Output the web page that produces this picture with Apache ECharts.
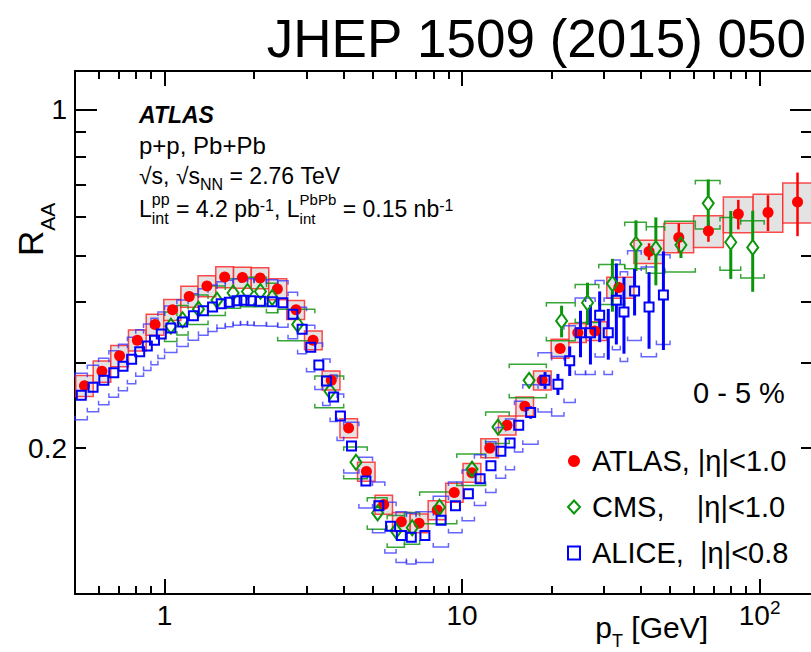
<!DOCTYPE html>
<html>
<head>
<meta charset="utf-8">
<script src="https://cdn.jsdelivr.net/npm/echarts@6.0.0/dist/echarts.min.js"></script>
<style>
  html, body { margin: 0; padding: 0; background: #fff; }
  #chart { width: 811px; height: 652px; }
</style>
</head>
<body>
<div id="chart"></div>
<script>
// ---------------- data: charged-hadron R_AA, 0-5 % central Pb+Pb, 2.76 TeV ----------------
const atlasPt = [0.538, 0.616, 0.706, 0.810, 0.929, 1.064, 1.210, 1.388, 1.592, 1.827, 2.095, 2.394, 2.766,
  3.155, 3.634, 4.156, 4.77, 5.45, 6.25, 7.17, 8.25, 9.41, 10.79, 12.39, 14.16, 16.25, 18.59, 21.36,
  24.49, 27.92, 33.64, 42.5, 53.5, 67.3, 84.8, 106.7, 134.1];
const atlasRaa = [0.269, 0.288, 0.310, 0.334, 0.360, 0.386, 0.411, 0.432, 0.451, 0.450, 0.449, 0.426, 0.386,
  0.334, 0.276, 0.220, 0.179, 0.153, 0.141, 0.140, 0.149, 0.162, 0.178, 0.200, 0.223, 0.244, 0.276, 0.321,
  0.346, 0.349, 0.429, 0.509, 0.544, 0.561, 0.608, 0.613, 0.644];
const atlasStatPct = [0.5, 0.5, 0.5, 0.5, 0.5, 0.5, 0.5, 0.5, 0.5, 0.5, 0.5, 0.5, 0.5, 0.5, 0.5, 0.5, 0.5, 0.5,
  0.5, 0.5, 0.5, 0.5, 0.5, 0.5, 0.5, 0.5, 0.5, 0.5, 1, 1.5, 2.5, 4, 7, 5, 7, 8.5, 15];
const atlasSysPct = [5, 5, 5, 5, 5, 5, 5, 5, 5, 5, 5, 5, 4.5, 4.5, 4.5, 4.5, 4.5, 4.5, 4.5, 4.5, 4.5, 4.5, 4.5,
  4.5, 4.5, 4.5, 4.5, 4.5, 4.5, 4.5, 5, 5.5, 7, 7.5, 8.5, 9, 9.5];

const cmsPt = [1.05, 1.15, 1.3, 1.5, 1.7, 1.9, 2.1, 2.3, 2.8, 3.6, 4.4, 5.2, 6.0, 6.8, 8.4, 10.8, 13.2, 16.8,
  21.6, 26.4, 32.0, 38.4, 44.8, 54.4, 67.2, 80.0, 94.8];
const cmsEdges = [1.0, 1.1, 1.2, 1.4, 1.6, 1.8, 2.0, 2.2, 2.4, 3.2, 4.0, 4.8, 5.6, 6.4, 7.2, 9.6, 12.0, 14.4,
  19.2, 24.0, 28.8, 35.2, 41.6, 48.0, 60.8, 73.6, 86.4, 103.6];
const cmsRaa = [0.357, 0.368, 0.387, 0.404, 0.418, 0.421, 0.421, 0.409, 0.360, 0.262, 0.187, 0.147, 0.135,
  0.137, 0.151, 0.181, 0.221, 0.276, 0.366, 0.399, 0.437, 0.527, 0.516, 0.525, 0.640, 0.532, 0.519];
const cmsStatPct = [0.5, 0.5, 0.5, 0.5, 0.5, 0.5, 0.5, 0.5, 0.5, 0.5, 0.5, 0.5, 0.5, 0.5, 0.5, 0.5, 0.5, 3,
  7.5, 10, 12.5, 12, 16, 6, 12, 16, 19];
const cmsSysPct = [7, 7, 7, 7, 7, 7, 7, 7, 7.5, 7.5, 7.5, 7.5, 7.5, 7.5, 7.5, 7.5, 7.5, 8, 9, 9, 9.5, 11, 11,
  12, 11.5, 12.5, 13.5];

const alicePt = [0.525, 0.575, 0.625, 0.675, 0.725, 0.775, 0.825, 0.875, 0.925, 0.975,
  1.05, 1.15, 1.25, 1.35, 1.45, 1.55, 1.65, 1.75, 1.85, 1.95,
  2.1, 2.3, 2.5, 2.7, 2.9, 3.1, 3.3, 3.5, 3.7, 3.9,
  4.25, 4.75, 5.25, 5.75, 6.25, 6.75,
  7.5, 8.5, 9.5, 10.5, 11.5, 12.5, 13.5, 14.5, 15.5,
  17, 19, 21, 23, 25, 27, 29, 31, 33, 35,
  38, 42.5, 47.5];
const aliceEdges = [0.5, 0.55, 0.6, 0.65, 0.7, 0.75, 0.8, 0.85, 0.9, 0.95,
  1.0, 1.1, 1.2, 1.3, 1.4, 1.5, 1.6, 1.7, 1.8, 1.9,
  2.0, 2.2, 2.4, 2.6, 2.8, 3.0, 3.2, 3.4, 3.6, 3.8,
  4.0, 4.5, 5.0, 5.5, 6.0, 6.5,
  7, 8, 9, 10, 11, 12, 13, 14, 15,
  16, 18, 20, 22, 24, 26, 28, 30, 32, 34,
  36, 40, 45, 50];
const aliceRaa = [0.257, 0.267, 0.276, 0.286, 0.295, 0.305, 0.316, 0.325, 0.334, 0.344,
  0.354, 0.364, 0.375, 0.384, 0.391, 0.397, 0.400, 0.403, 0.404, 0.403,
  0.402, 0.401, 0.399, 0.378, 0.352, 0.323, 0.297, 0.275, 0.255, 0.233,
  0.202, 0.171, 0.152, 0.138, 0.132, 0.131,
  0.132, 0.142, 0.152, 0.161, 0.173, 0.184, 0.197, 0.205, 0.223,
  0.237, 0.276, 0.271, 0.303, 0.346, 0.346, 0.376, 0.346, 0.404, 0.382,
  0.422, 0.391, 0.414];
const aliceStatPct = [0.5, 0.5, 0.5, 0.5, 0.5, 0.5, 0.5, 0.5, 0.5, 0.5,
  0.5, 0.5, 0.5, 0.5, 0.5, 0.5, 0.5, 0.5, 0.5, 0.5,
  0.5, 0.5, 0.5, 0.5, 0.5, 0.5, 0.5, 0.5, 0.5, 0.5,
  0.5, 0.5, 0.5, 0.5, 0.5, 0.5,
  0.5, 0.5, 0.5, 0.5, 0.5, 0.5, 0.5, 0.5, 0.5,
  3, 4, 5, 7, 11, 14, 12, 12, 19, 18,
  11, 18, 23];
const aliceSysPct = [11, 11, 11, 11, 11, 11, 11, 11, 11, 11,
  11, 11, 11, 11, 11, 11, 11, 11, 11, 11,
  11, 11, 11, 11, 11, 11, 11, 11, 11, 11,
  12, 12, 12, 12, 12, 12,
  12, 12, 12, 12, 12, 12, 12, 12, 12,
  14, 14, 14, 18, 18, 18, 18, 18, 21, 21,
  21, 21, 21];

// axis ranges, ticks and labels
const xRange = [0.5, 150];
const yRange = [0.1, 1.2];
const xMajorTicks = [1, 10, 100];
const xMinorTicks = [0.6, 0.7, 0.8, 0.9, 2, 3, 4, 5, 6, 7, 8, 9, 20, 30, 40, 50, 60, 70, 80, 90];
const xTickLabels = [1, 10, 100];
const yMajorTicks = [1];
const yMinorTicks = [0.2, 0.3, 0.4, 0.5, 0.6, 0.7, 0.8, 0.9];
const yTickLabels = [0.2, 1];

const atlasName = 'ATLAS, |η|<1.0';
const cmsName = 'CMS,\u00a0\u00a0\u00a0\u00a0|η|<1.0';
const aliceName = 'ALICE,\u00a0\u00a0|η|<0.8';

// ---------------- helpers ----------------
const FONT = '"Liberation Sans", Arial, Helvetica, sans-serif';
const RED = '#ff0000', GREEN = '#0a960a', BLUE = '#0000ff';
const lg = Math.log10;

// bin edges half way (in log) between neighbouring centres
function geoEdges(c) {
  const e = [c[0] / Math.sqrt(c[1] / c[0])];
  for (let i = 1; i < c.length; i++) e.push(Math.sqrt(c[i - 1] * c[i]));
  e.push(c[c.length - 1] * Math.sqrt(c[c.length - 1] / c[c.length - 2]));
  return e;
}
function sysData(pt, edges, r, pct) {
  return pt.map((p, i) => [edges[i], edges[i + 1], r[i], r[i] * (1 - pct[i] / 100), r[i] * (1 + pct[i] / 100)]);
}
function statData(pt, r, pct) {
  return pt.map((p, i) => [p, r[i], r[i] * (1 - pct[i] / 100), r[i] * (1 + pct[i] / 100)]);
}
function gridRect(params) {
  const c = params.coordSys;
  return { x: c.x, y: c.y, width: c.width, height: c.height };
}
function renderSysBox(params, api) {
  const a = api.coord([api.value(0), api.value(4)]);
  const b = api.coord([api.value(1), api.value(3)]);
  const shape = echarts.graphic.clipRectByRect(
    { x: a[0], y: a[1], width: b[0] - a[0], height: b[1] - a[1] }, gridRect(params));
  if (!shape) return;
  return { type: 'rect', shape, style: { fill: '#e3e3e3', stroke: 'rgba(255,30,30,0.8)', lineWidth: 1.5 } };
}
function bracketRenderer(color) {
  return function (params, api) {
    const x1 = api.coord([api.value(0), api.value(2)])[0];
    const x2 = api.coord([api.value(1), api.value(2)])[0];
    const yt = api.coord([api.value(0), api.value(4)])[1];
    const yb = api.coord([api.value(0), api.value(3)])[1];
    const t = 4;
    const st = { stroke: color, lineWidth: 1.5, fill: null };
    return {
      type: 'group', children: [
        { type: 'polyline', shape: { points: [[x1, yt + t], [x1, yt], [x2, yt], [x2, yt + t]] }, style: st },
        { type: 'polyline', shape: { points: [[x1, yb - t], [x1, yb], [x2, yb], [x2, yb - t]] }, style: st }
      ]
    };
  };
}
function statRenderer(color, gap, width) {
  return function (params, api) {
    const c = api.coord([api.value(0), api.value(1)]);
    const top = api.coord([api.value(0), api.value(3)])[1];
    const bot = api.coord([api.value(0), api.value(2)])[1];
    const st = { stroke: color, lineWidth: width };
    const children = [];
    if (c[1] - gap > top) children.push({ type: 'line', shape: { x1: c[0], y1: top, x2: c[0], y2: c[1] - gap }, style: st });
    if (bot > c[1] + gap) children.push({ type: 'line', shape: { x1: c[0], y1: c[1] + gap, x2: c[0], y2: bot }, style: st });
    return { type: 'group', children };
  };
}

// text runs with sub/superscripts, laid out from measured widths
const measureCtx = document.createElement('canvas').getContext('2d');
function nb(s) { return s.replace(/ /g, '\u00a0'); }
function measure(s, size, weight, style) {
  measureCtx.font = (style || 'normal') + ' ' + (weight || 'normal') + ' ' + size + 'px ' + FONT;
  return measureCtx.measureText(nb(s)).width;
}
function textEl(s, x, baseline, size, weight, style) {
  return {
    type: 'text', x: x, y: baseline - 0.3465 * size, silent: true,
    style: {
      text: nb(s), fontSize: size, fontFamily: FONT, fontWeight: weight || 'normal',
      fontStyle: style || 'normal', fill: '#000', align: 'left', verticalAlign: 'middle'
    }
  };
}
function textRun(pieces, x0, baseline, anchor) {
  const widths = pieces.map(p => p.stack
    ? Math.max(measure(p.stack[0], p.size), measure(p.stack[1], p.size))
    : measure(p.t, p.size, p.weight, p.style));
  const total = widths.reduce((a, b) => a + b, 0);
  let x = anchor === 'right' ? x0 - total : x0;
  const els = [];
  pieces.forEach((p, i) => {
    if (p.stack) {
      els.push(textEl(p.stack[0], x, baseline + p.dyTop, p.size));
      els.push(textEl(p.stack[1], x, baseline + p.dyBot, p.size));
    } else {
      els.push(textEl(p.t, x, baseline + (p.dy || 0), p.size, p.weight, p.style));
    }
    x += widths[i];
  });
  return els;
}

// ---------------- axes ----------------
const lineStyle = { color: '#000', width: 2 };
function frameAxis(kind, position, ticks, len, withLine, labels, labelOpt) {
  const range = kind === 'x' ? xRange : yRange;
  const ax = {
    type: 'value', gridIndex: 0, position: position,
    min: lg(range[0]), max: lg(range[1]),
    axisLine: { show: withLine, onZero: false, lineStyle: lineStyle },
    axisTick: { show: true, inside: true, length: len, customValues: ticks.map(lg), lineStyle: lineStyle },
    axisLabel: { show: false },
    splitLine: { show: false },
    axisPointer: { show: false }
  };
  if (labels) {
    ax.axisLabel = Object.assign({
      show: true, customValues: labels.map(lg), color: '#000', fontFamily: FONT, fontSize: 28
    }, labelOpt);
  }
  return ax;
}
const xLabelOpt = {
  margin: 4, lineHeight: 34,
  formatter: v => {
    const n = Math.round(Math.pow(10, v));
    return n >= 100 ? '{n|10}{s|' + Math.round(v) + '}' : String(n);
  },
  rich: {
    n: { fontSize: 28, fontFamily: FONT, color: '#000', lineHeight: 34 },
    s: { fontSize: 19, fontFamily: FONT, color: '#000', lineHeight: 17, verticalAlign: 'top' }
  }
};
const yLabelOpt = {
  margin: 8,
  formatter: v => String(Math.round(Math.pow(10, v) * 1000) / 1000)
};

const xAxes = [
  { type: 'log', logBase: 10, min: xRange[0], max: xRange[1], show: false, gridIndex: 0 },
  frameAxis('x', 'bottom', xMajorTicks, 15, true, xTickLabels, xLabelOpt),
  frameAxis('x', 'bottom', xMinorTicks, 8, false),
  frameAxis('x', 'top', xMajorTicks, 15, true),
  frameAxis('x', 'top', xMinorTicks, 8, false)
];
const yAxes = [
  { type: 'log', logBase: 10, min: yRange[0], max: yRange[1], show: false, gridIndex: 0 },
  frameAxis('y', 'left', yMajorTicks, 22, true, yTickLabels, yLabelOpt),
  frameAxis('y', 'left', yMinorTicks, 11, false),
  frameAxis('y', 'right', yMajorTicks, 22, true),
  frameAxis('y', 'right', yMinorTicks, 11, false)
];

// ---------------- series ----------------
const atlasEdges = geoEdges(atlasPt);
function customSeries(data, renderItem, encode) {
  return { type: 'custom', xAxisIndex: 0, yAxisIndex: 0, data, renderItem, encode, silent: true, z: 2 };
}
const series = [
  customSeries(sysData(atlasPt, atlasEdges, atlasRaa, atlasSysPct), renderSysBox, { x: [0, 1], y: [2, 3, 4] }),
  customSeries(sysData(cmsPt, cmsEdges, cmsRaa, cmsSysPct), bracketRenderer('rgba(20,150,20,0.85)'), { x: [0, 1], y: [2, 3, 4] }),
  customSeries(sysData(alicePt, aliceEdges, aliceRaa, aliceSysPct), bracketRenderer('rgba(50,50,255,0.75)'), { x: [0, 1], y: [2, 3, 4] }),
  customSeries(statData(atlasPt, atlasRaa, atlasStatPct), statRenderer(RED, 0, 2.5), { x: 0, y: [1, 2, 3] }),
  customSeries(statData(cmsPt, cmsRaa, cmsStatPct), statRenderer(GREEN, 7.5, 3), { x: 0, y: [1, 2, 3] }),
  customSeries(statData(alicePt, aliceRaa, aliceStatPct), statRenderer(BLUE, 5, 3), { x: 0, y: [1, 2, 3] }),
  {
    name: atlasName, type: 'scatter', xAxisIndex: 0, yAxisIndex: 0, silent: true, z: 3,
    data: atlasPt.map((p, i) => [p, atlasRaa[i]]),
    symbol: 'circle', symbolSize: 11, itemStyle: { color: RED, opacity: 1 }
  },
  {
    name: cmsName, type: 'scatter', xAxisIndex: 0, yAxisIndex: 0, silent: true, z: 3,
    data: cmsPt.map((p, i) => [p, cmsRaa[i]]),
    symbol: 'diamond', symbolSize: [11, 15],
    itemStyle: { color: 'rgba(255,255,255,0)', borderColor: GREEN, borderWidth: 2, opacity: 1 }
  },
  {
    name: aliceName, type: 'scatter', xAxisIndex: 0, yAxisIndex: 0, silent: true, z: 3,
    data: alicePt.map((p, i) => [p, aliceRaa[i]]),
    symbol: 'rect', symbolSize: 9,
    itemStyle: { color: 'rgba(255,255,255,0)', borderColor: BLUE, borderWidth: 2, opacity: 1 }
  }
];

// ---------------- annotations ----------------
const texts = [].concat(
  textRun([{ t: 'JHEP 1509 (2015) 050', size: 53 }], 806, 57, 'right'),
  textRun([{ t: 'ATLAS', size: 23, weight: 'bold', style: 'italic' }], 139, 123),
  textRun([{ t: 'p+p, Pb+Pb', size: 24 }], 139, 154),
  textRun([{ t: '√s, √s', size: 23 }, { t: 'NN', size: 16, dy: 6 }, { t: ' = 2.76 TeV', size: 23 }], 139, 184),
  textRun([
    { t: 'L', size: 23 }, { stack: ['pp', 'int'], size: 16, dyTop: -12, dyBot: 7 },
    { t: ' = 4.2 pb', size: 23 }, { t: '-1', size: 16, dy: -6 },
    { t: ', L', size: 23 }, { stack: ['PbPb', 'int'], size: 15, dyTop: -12, dyBot: 7 },
    { t: ' = 0.15 nb', size: 23 }, { t: '-1', size: 16, dy: -6 }
  ], 139, 217),
  textRun([{ t: '0 - 5 %', size: 29 }], 693, 403),
  textRun([{ t: 'p', size: 30 }, { t: 'T', size: 18, dy: 9 }, { t: ' [GeV]', size: 30 }], 708, 638, 'right')
);
const yTitle = {
  type: 'group', x: 43, y: 256, rotation: Math.PI / 2, silent: true,
  children: textRun([{ t: 'R', size: 35 }, { t: 'AA', size: 21, dy: 12 }], 0, 0)
};

const chart = echarts.init(document.getElementById('chart'), null, { renderer: 'svg', width: 811, height: 652 });
chart.setOption({
  animation: false,
  backgroundColor: '#fff',
  grid: { left: 75, top: 71, width: 737, height: 523, outerBoundsMode: 'none', containLabel: false },
  xAxis: xAxes,
  yAxis: yAxes,
  legend: {
    orient: 'vertical', left: 567, top: 446, padding: 0,
    itemWidth: 12, itemHeight: 13, itemGap: 16, selectedMode: false,
    textStyle: { fontSize: 29, fontFamily: FONT, color: '#000', lineHeight: 30, padding: [0, 0, 0, 7] },
    data: [
      { name: atlasName, icon: 'circle', itemStyle: { color: RED } },
      { name: cmsName, icon: 'diamond', itemStyle: { color: '#fff', borderColor: GREEN, borderWidth: 2 } },
      { name: aliceName, icon: 'rect', itemStyle: { color: '#fff', borderColor: BLUE, borderWidth: 2 } }
    ]
  },
  graphic: { elements: texts.concat([yTitle]) },
  series: series
});
</script>
</body>
</html>
